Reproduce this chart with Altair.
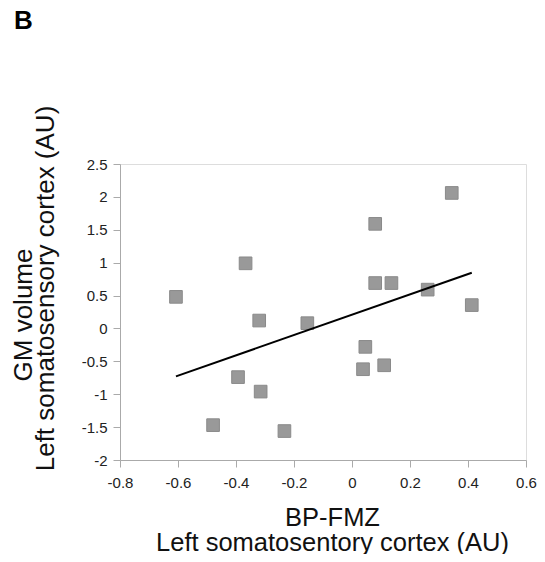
import altair as alt
import pandas as pd

# Data
bp_fmz = [-0.607, -0.367, -0.320, -0.154, -0.393, -0.315, -0.479, -0.233,
          0.080, 0.080, 0.136, 0.261, 0.344, 0.413, 0.046, 0.038, 0.111]
gm_volume = [0.48, 0.99, 0.12, 0.08, -0.74, -0.96, -1.47, -1.56,
             1.59, 0.69, 0.69, 0.59, 2.06, 0.355, -0.28, -0.62, -0.56]
x_ticks = [-0.8, -0.6, -0.4, -0.2, 0, 0.2, 0.4, 0.6]
y_ticks = [-2, -1.5, -1, -0.5, 0, 0.5, 1, 1.5, 2, 2.5]

df = pd.DataFrame({"x": bp_fmz, "y": gm_volume})

FONT = "Liberation Sans"
minus_fix = "replace(datum.label, '\u2212', '-')"


def x_enc():
    return alt.X(
        "x:Q",
        scale=alt.Scale(domain=[-0.8, 0.6], nice=False, zero=False),
        axis=alt.Axis(
            values=x_ticks, format="~g", labelExpr=minus_fix,
            labelFlush=False, labelOverlap=False,
            title=["BP-FMZ", "Left somatosentory cortex (AU)"],
            titleFontSize=25.5, titleFontWeight="normal", titleFont=FONT,
            titleColor="#111111", titleLineHeight=25,
            titleX=212, titleY=65, titleAlign="center", titleBaseline="alphabetic",
            labelFont=FONT, labelFontSize=15, labelColor="#222222", labelPadding=8,
            domainColor="#aaaaaa", tickColor="#aaaaaa", tickSize=7, grid=False,
        ),
    )


def y_enc():
    return alt.Y(
        "y:Q",
        scale=alt.Scale(domain=[-2, 2.5], nice=False, zero=False),
        axis=alt.Axis(
            values=y_ticks, format="~g", labelExpr=minus_fix,
            labelFlush=False, labelOverlap=False,
            title="Left somatosensory cortex (AU)",
            titleFontSize=26, titleFontWeight="normal", titleFont=FONT,
            titleColor="#111111",
            titleX=-67, titleY=124, titleAlign="center", titleBaseline="alphabetic",
            titleAngle=-90,
            labelFont=FONT, labelFontSize=15, labelColor="#222222", labelPadding=6,
            domainColor="#aaaaaa", tickColor="#aaaaaa", tickSize=7, grid=False,
        ),
    )


points = alt.Chart(df).mark_square(
    size=160, filled=True, color="#999999", stroke="#8a8a8a", strokeWidth=1, opacity=1
).encode(x=x_enc(), y=y_enc())

fit = alt.Chart(df).transform_regression("x", "y").mark_line(
    color="#000000", strokeWidth=2
).encode(x=x_enc(), y=y_enc())

panel = alt.Chart(pd.DataFrame({"t": ["B"]})).mark_text(
    font=FONT, fontSize=26, fontWeight="bold", align="left", baseline="alphabetic",
    color="#000000"
).encode(text="t:N", x=alt.value(-106), y=alt.value(-135))

y_title_top = alt.Chart(pd.DataFrame({"t": ["GM volume"]})).mark_text(
    font=FONT, fontSize=26, align="center", baseline="alphabetic",
    angle=270, color="#111111"
).encode(text="t:N", x=alt.value(-88), y=alt.value(151))

chart = alt.layer(points, fit, panel, y_title_top).properties(
    width=406, height=296,
    padding={"left": 112, "top": 156, "right": 11, "bottom": 94},
    autosize=alt.AutoSizeParams(type="none"),
).configure_view(stroke=None).configure(background="white")

chart.save("out.html", embed_options={"renderer": "svg", "actions": False})
